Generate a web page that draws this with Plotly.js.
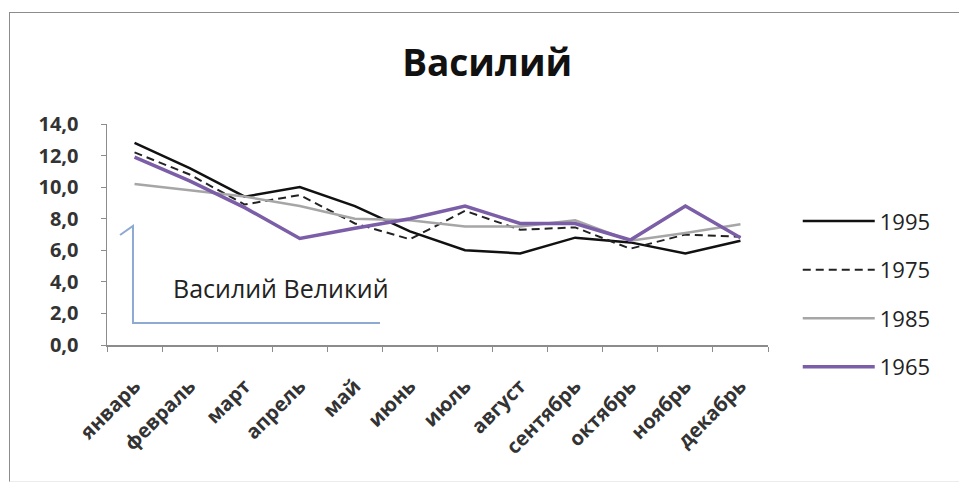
<!DOCTYPE html>
<html>
<head>
<meta charset="utf-8">
<script src="https://cdn.plot.ly/plotly-3.0.1.min.js"></script>
<style>
  html, body { margin: 0; padding: 0; background: #fff; }
  #wrap { position: relative; width: 959px; height: 484px; overflow: hidden; }
  #chart { position: absolute; left: 0; top: 0; width: 959px; height: 484px; }
  #frame { position: absolute; left: 9px; top: 12px; width: 960px; height: 468px;
           border-left: 1.5px solid #8c8c8c; border-top: 1.5px solid #8c8c8c;
           border-bottom: 1px solid #ececec; pointer-events: none; }
</style>
</head>
<body>
<div id="wrap">
  <div id="chart"></div>
  <div id="frame"></div>
</div>
<script>
const months = ["январь", "февраль", "март", "апрель", "май", "июнь", "июль", "август", "сентябрь", "октябрь", "ноябрь", "декабрь"];
const seriesNames = ["1995", "1975", "1985", "1965"];
const v1995 = [12.8, 11.2, 9.4, 10.0, 8.8, 7.2, 6.0, 5.8, 6.8, 6.5, 5.8, 6.6];
const v1975 = [12.2, 10.8, 8.9, 9.5, 7.7, 6.7, 8.5, 7.3, 7.45, 6.1, 7.0, 6.85];
const v1985 = [10.2, 9.8, 9.4, 8.8, 8.0, 7.9, 7.5, 7.5, 7.9, 6.6, 7.1, 7.65];
const v1965 = [11.9, 10.4, 8.7, 6.75, 7.4, 8.0, 8.8, 7.7, 7.7, 6.65, 8.8, 6.8];
const chartTitle = "Василий";
const noteText = "Василий Великий";

const styles = [
  {color: "#111111", width: 2.5, dash: "solid"},
  {color: "#222222", width: 2, dash: "8px,5px"},
  {color: "#a6a6a6", width: 2.5, dash: "solid"},
  {color: "#7b5ea7", width: 3.5, dash: "solid"}
];
const values = [v1995, v1975, v1985, v1965];

const traces = values.map((v, i) => ({
  type: "scatter",
  mode: "lines",
  x: months,
  y: v,
  name: seriesNames[i],
  legendgroup: "g" + i,
  line: {color: styles[i].color, width: styles[i].width, dash: styles[i].dash}
}));

const fontFam = "Open Sans, Noto Sans, sans-serif";

const layout = {
  width: 959,
  height: 484,
  paper_bgcolor: "#ffffff",
  plot_bgcolor: "#ffffff",
  separators: ", ",
  margin: {l: 107, r: 191, t: 124, b: 139},
  title: {
    text: "<b>" + chartTitle + "</b>",
    font: {family: fontFam, size: 37, color: "#111111"},
    x: 0.508, xanchor: "center", xref: "container",
    y: 0.87, yanchor: "middle"
  },
  showlegend: true,
  legend: {
    x: 1.045, xanchor: "left",
    y: 0.655, yanchor: "top",
    font: {family: fontFam, size: 22, color: "#222222"},
    tracegroupgap: 17,
    itemwidth: 72,
    bgcolor: "rgba(0,0,0,0)"
  },
  xaxis: {
    type: "category",
    range: [-0.5, 11.5],
    showline: true, linecolor: "#8c8c8c", linewidth: 1.5,
    ticks: "outside", tickson: "boundaries", ticklen: 5, tickcolor: "#8c8c8c",
    tickangle: -45,
    ticklabelstandoff: 20,
    tickfont: {family: fontFam, size: 20, weight: "bold", color: "#333333"},
    showgrid: false, zeroline: false
  },
  yaxis: {
    range: [0, 14],
    dtick: 2,
    tickformat: ".1f",
    showline: true, linecolor: "#8c8c8c", linewidth: 1.5,
    ticks: "outside", ticklen: 5, tickcolor: "#8c8c8c",
    ticklabelstandoff: 18,
    tickfont: {family: fontFam, size: 20, weight: "bold", color: "#333333"},
    showgrid: false, zeroline: false
  },
  shapes: [{
    type: "path",
    xref: "paper", yref: "paper",
    path: "M 0.0197,0.4977 L 0.0393,0.5385 L 0.0393,0.1 L 0.4130,0.1",
    line: {color: "#8eaad2", width: 2}
  }],
  annotations: [{
    text: noteText,
    xref: "paper", yref: "paper",
    x: 0.4297, xanchor: "right",
    y: 0.2579, yanchor: "middle",
    showarrow: false,
    font: {family: fontFam, size: 25, color: "#222222"}
  }]
};

Plotly.newPlot("chart", traces, layout, {displayModeBar: false, staticPlot: true});
</script>
</body>
</html>
